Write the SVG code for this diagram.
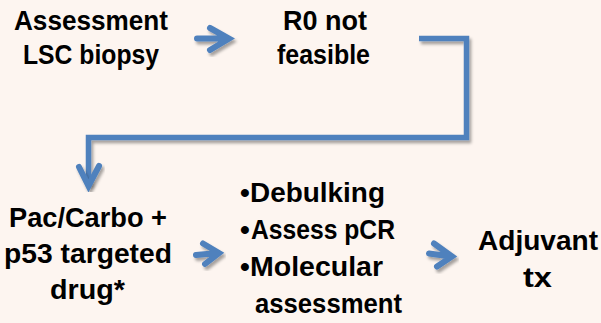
<svg xmlns="http://www.w3.org/2000/svg" width="601" height="323" viewBox="0 0 601 323">
  <defs>
    <filter id="shadow" x="-30%" y="-30%" width="160%" height="160%">
      <feDropShadow dx="2" dy="3" stdDeviation="1.5" flood-color="#000" flood-opacity="0.35"/>
    </filter>
    <style>
      .lbl { font-family: "Liberation Sans", Arial, sans-serif; font-weight: bold; font-size: 28px; fill: #000; }
      .conn { fill: none; stroke: #4F81BD; stroke-width: 5.5; stroke-linejoin: miter; filter: url(#shadow); }
      .tip { fill: none; stroke: #4F81BD; stroke-width: 6; stroke-linecap: round; stroke-linejoin: miter; filter: url(#shadow); }
    </style>
  </defs>
  <rect width="601" height="323" fill="#FDF5F0"/>

  <g id="connectors">
    <!-- step 1 to step 2 -->
    <path class="tip" d="M197 38.5 H228 M210 28 L229 38.5 L210 50"/>
    <!-- elbow from step 2 down to step 3 -->
    <path class="conn" d="M419 38.5 H466.5 V137.5 H88.5 V185"/>
    <path class="tip" d="M79 167 L88.5 186 L99 166"/>
    <!-- step 3 to step 4 -->
    <path class="tip" d="M196 255 L218 253 M203 243.5 L219 253 L205 264"/>
    <!-- step 4 to step 5 -->
    <path class="tip" d="M429 253.5 L451 256.5 M434 243.5 L452 256.5 L437 266.5"/>
  </g>

  <g id="assessment">
    <text class="lbl"><tspan x="14" y="30" textLength="154" lengthAdjust="spacingAndGlyphs">Assessment</tspan><tspan x="23" y="64" textLength="136" lengthAdjust="spacingAndGlyphs">LSC biopsy</tspan></text>
  </g>

  <g id="r0-not-feasible">
    <text class="lbl"><tspan x="283" y="30" textLength="84" lengthAdjust="spacingAndGlyphs">R0 not</tspan><tspan x="277" y="64" textLength="93" lengthAdjust="spacingAndGlyphs">feasible</tspan></text>
  </g>

  <g id="neoadjuvant">
    <text class="lbl"><tspan x="9" y="227" textLength="158" lengthAdjust="spacingAndGlyphs">Pac/Carbo +</tspan><tspan x="4" y="263" textLength="168" lengthAdjust="spacingAndGlyphs">p53 targeted</tspan><tspan x="50" y="299" textLength="75" lengthAdjust="spacingAndGlyphs">drug*</tspan></text>
  </g>

  <g id="surgery">
    <text class="lbl"><tspan x="240" y="202">•</tspan><tspan x="250" y="202" textLength="135" lengthAdjust="spacingAndGlyphs">Debulking</tspan></text>
    <text class="lbl"><tspan x="240" y="239">•</tspan><tspan x="251" y="239" textLength="144" lengthAdjust="spacingAndGlyphs">Assess pCR</tspan></text>
    <text class="lbl"><tspan x="240" y="276">•</tspan><tspan x="250" y="276" textLength="133" lengthAdjust="spacingAndGlyphs">Molecular</tspan><tspan x="255" y="313" textLength="147" lengthAdjust="spacingAndGlyphs">assessment</tspan></text>
  </g>

  <g id="adjuvant">
    <text class="lbl"><tspan x="478" y="250" textLength="120" lengthAdjust="spacingAndGlyphs">Adjuvant</tspan><tspan x="523" y="287" textLength="29" lengthAdjust="spacingAndGlyphs">tx</tspan></text>
  </g>
</svg>
